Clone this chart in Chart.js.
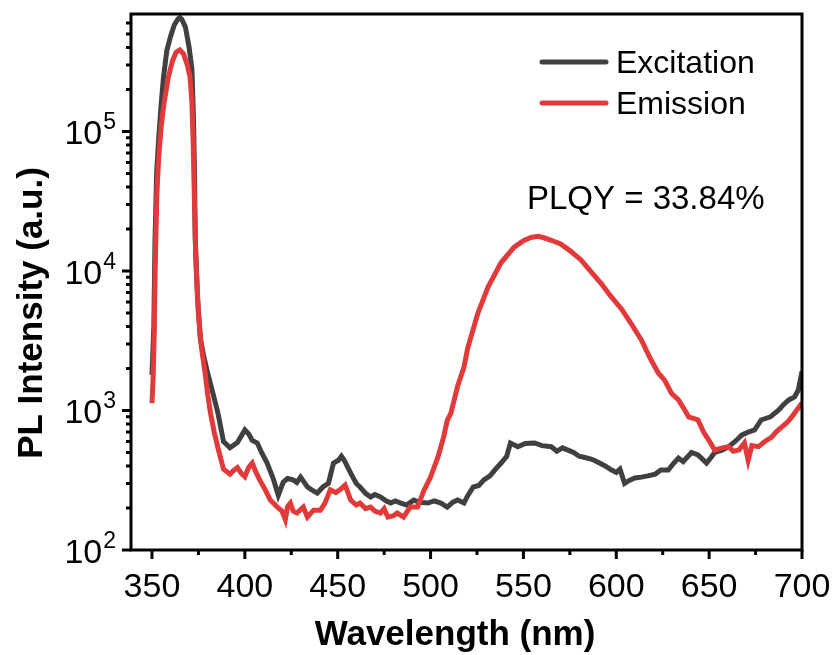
<!DOCTYPE html>
<html>
<head>
<meta charset="utf-8">
<script src="https://cdn.jsdelivr.net/npm/chart.js@4.4.0/dist/chart.umd.min.js"></script>
<style>
  body { margin: 0; background: #fff; }
  #plChart { display: block; }
</style>
</head>
<body>
<canvas id="plChart" width="835" height="655"></canvas>
<script>
// Spectra (wavelength in nm, intensity in a.u.)
const excitationNm = [
  350, 351, 351.6, 352.5, 353.5, 355, 356.2, 358, 360, 362, 364, 365, 366, 368, 370, 371.5, 372.3, 372.8,
  373.3, 374.5, 376, 378, 380, 383, 385.5, 388.5, 392, 396, 400, 402, 404, 406.7, 409, 412, 415.5, 418,
  420.7, 423, 426, 428, 430, 433.7, 436, 439, 442, 445, 447.7, 450.4, 452, 453.5, 457, 460, 462, 465,
  467.7, 470, 473, 476, 478.5, 481, 484, 487, 491, 494, 498.5, 502, 505.5, 509, 512, 514.6, 518, 520,
  523, 526, 528.7, 532, 535, 538, 541, 543, 547, 551, 556, 560, 565, 568, 571, 574, 577, 580, 583, 586,
  588, 591, 594, 597.5, 600, 602, 604.5, 607, 610, 613.5, 617, 621, 624, 628, 631, 633.5, 636, 640.5,
  644, 648.6, 651, 653, 657, 660.5, 664, 667.5, 671, 674.5, 678, 683, 687.5, 690, 692.9, 696, 698, 700
];
const excitationValues = [
  1800, 4000, 16000, 50000, 85000, 160000, 245000, 380000, 480000, 580000, 640000, 655000, 640000, 560000,
  400000, 280000, 130000, 60000, 17000, 6500, 3300, 2400, 1850, 1300, 960, 600, 540, 590, 725, 680, 610,
  585, 500, 420, 318, 247, 307, 325, 318, 305, 333, 283, 270, 256, 283, 300, 420, 440, 470, 440, 356, 300,
  283, 255, 240, 250, 240, 225, 217, 225, 217, 210, 228, 220, 217, 225, 217, 203, 220, 228, 217, 245, 283,
  290, 318, 340, 380, 420, 470, 585, 550, 580, 585, 560, 550, 510, 540, 520, 500, 470, 460, 450, 440, 420,
  400, 374, 360, 380, 300, 315, 328, 333, 340, 350, 374, 374, 420, 456, 430, 500, 480, 420, 460, 500, 520,
  550, 600, 666, 700, 725, 855, 900, 1010, 1100, 1190, 1250, 1400, 1900
];
const emissionNm = [
  350, 350.6, 351.2, 351.8, 352.6, 353.6, 355, 356.5, 358.8, 361, 363, 365, 367, 369, 370.5, 371.5, 372.2,
  372.9, 373.6, 375, 376.5, 378.5, 380, 381.5, 383.5, 385.5, 388.5, 392, 394, 396, 398, 400, 402, 404, 406,
  408, 411, 413.7, 417.5, 420, 421.8, 423, 424.5, 426, 428, 431.5, 433.7, 437, 440.7, 443, 446, 449, 451.5,
  454, 457, 460, 462, 465, 467.7, 470, 473, 475, 477, 480, 482, 485.5, 489, 493, 496.3, 500, 504, 507, 509,
  511, 514.6, 518, 520, 525.5, 531, 538, 545, 550, 554, 558, 561, 565, 570, 575, 581, 586, 592, 597, 603,
  608, 613.5, 618, 622.7, 626, 629.7, 633.5, 637, 639, 644, 647, 649.7, 653, 657, 660.5, 663, 666, 669,
  671, 673, 676.6, 680, 683.7, 686, 689, 692, 694.5, 697, 700
];
const emissionValues = [
  1130, 1700, 3500, 12000, 35000, 65000, 110000, 160000, 245000, 320000, 370000, 384000, 360000, 300000,
  245000, 160000, 80000, 30000, 12000, 5000, 2900, 1900, 1300, 960, 700, 540, 380, 350, 372, 390, 355, 335,
  390, 420, 360, 318, 270, 228, 203, 190, 165, 205, 217, 190, 184, 203, 172, 193, 193, 215, 270, 258, 272,
  292, 228, 210, 217, 198, 203, 190, 184, 198, 172, 176, 184, 172, 203, 203, 265, 333, 465, 645, 850, 960,
  1500, 2050, 2800, 5000, 7700, 11500, 14800, 16500, 17400, 17700, 17300, 16600, 15600, 14000, 12000, 10000,
  8100, 6600, 5300, 4200, 3200, 2400, 1850, 1650, 1330, 1190, 1000, 900, 855, 700, 615, 520, 540, 550, 510,
  520, 585, 440, 560, 550, 600, 645, 700, 760, 820, 900, 1000, 1130
];

const xTicks = [350, 400, 450, 500, 550, 600, 650, 700];
const xMinorTicks = [375, 425, 475, 525, 575, 625, 675];
const yTicks = [1e2, 1e3, 1e4, 1e5];
const yTickExponents = ['2', '3', '4', '5'];

const seriesNames = ['Excitation', 'Emission'];
const annotationText = 'PLQY = 33.84%';

const GREY = '#404040';
const RED = '#e23a3a';
const FONT = '"Liberation Sans", Arial, sans-serif';

function toPoints(xs, ys) {
  return xs.map((x, i) => ({ x: x, y: ys[i] }));
}

// Frame, ticks, labels, legend and note drawn on top of the chart area
const decorations = {
  id: 'decorations',
  afterDraw(chart) {
    const ctx = chart.ctx;
    const area = chart.chartArea;
    const xs = chart.scales.x;
    const ys = chart.scales.y;
    ctx.save();

    // frame
    ctx.strokeStyle = '#000';
    ctx.lineWidth = 3;
    ctx.strokeRect(area.left, area.top, area.right - area.left, area.bottom - area.top);

    // x ticks
    ctx.beginPath();
    xTicks.forEach(v => {
      const px = xs.getPixelForValue(v);
      ctx.moveTo(px, area.bottom);
      ctx.lineTo(px, area.bottom + 9);
    });
    xMinorTicks.forEach(v => {
      const px = xs.getPixelForValue(v);
      ctx.moveTo(px, area.bottom);
      ctx.lineTo(px, area.bottom + 5);
    });
    ctx.stroke();

    // y ticks (major + minor 2..9)
    ctx.beginPath();
    yTicks.forEach(v => {
      const py = ys.getPixelForValue(v);
      ctx.moveTo(area.left, py);
      ctx.lineTo(area.left - 9, py);
      for (let m = 2; m <= 9; m++) {
        const mv = v * m;
        if (mv > ys.max) break;
        const mpy = ys.getPixelForValue(mv);
        ctx.moveTo(area.left, mpy);
        ctx.lineTo(area.left - 5, mpy);
      }
    });
    ctx.stroke();

    // x tick labels
    ctx.fillStyle = '#000';
    ctx.font = '34px ' + FONT;
    ctx.textAlign = 'center';
    ctx.textBaseline = 'alphabetic';
    xTicks.forEach(v => {
      ctx.fillText(String(v), xs.getPixelForValue(v), 597);
    });

    // y tick labels as 10 with superscript
    yTicks.forEach((v, i) => {
      const py = ys.getPixelForValue(v);
      ctx.font = '23px ' + FONT;
      ctx.textAlign = 'right';
      const supW = ctx.measureText(yTickExponents[i]).width;
      ctx.fillText(yTickExponents[i], 116, py - 2);
      ctx.font = '34px ' + FONT;
      ctx.fillText('10', 116 - supW - 1, py + 13);
    });

    // axis titles
    ctx.font = 'bold 35px ' + FONT;
    ctx.textAlign = 'center';
    ctx.fillText('Wavelength (nm)', 455, 645);
    ctx.save();
    ctx.translate(42, 313);
    ctx.rotate(-Math.PI / 2);
    ctx.fillText('PL Intensity (a.u.)', 0, 0);
    ctx.restore();

    // legend
    const colors = chart.data.datasets.map(d => d.borderColor);
    const legendY = [62, 103];
    ctx.lineCap = 'round';
    ctx.lineWidth = 5;
    seriesNames.forEach((name, i) => {
      ctx.strokeStyle = colors[i];
      ctx.beginPath();
      ctx.moveTo(542, legendY[i]);
      ctx.lineTo(606, legendY[i]);
      ctx.stroke();
      ctx.font = '32px ' + FONT;
      ctx.textAlign = 'left';
      ctx.fillStyle = '#000';
      ctx.fillText(name, 616, legendY[i] + 11);
    });

    // annotation
    ctx.font = '33px ' + FONT;
    ctx.textAlign = 'left';
    ctx.fillText(annotationText, 527, 209);

    ctx.restore();
  }
};

new Chart(document.getElementById('plChart'), {
  type: 'line',
  data: {
    datasets: [
      {
        label: seriesNames[0],
        data: toPoints(excitationNm, excitationValues),
        borderColor: GREY,
        borderWidth: 5,
        pointRadius: 0,
        tension: 0,
        order: 1
      },
      {
        label: seriesNames[1],
        data: toPoints(emissionNm, emissionValues),
        borderColor: RED,
        borderWidth: 5,
        pointRadius: 0,
        tension: 0,
        order: 0
      }
    ]
  },
  options: {
    responsive: false,
    animation: false,
    devicePixelRatio: 1,
    layout: { padding: { left: 131, right: 33, top: 14, bottom: 105 } },
    plugins: { legend: { display: false }, tooltip: { enabled: false } },
    scales: {
      x: { type: 'linear', min: 338.7, max: 700, display: false },
      y: { type: 'logarithmic', min: 100, max: 6.95e5, display: false }
    }
  },
  plugins: [decorations]
});
</script>
</body>
</html>
